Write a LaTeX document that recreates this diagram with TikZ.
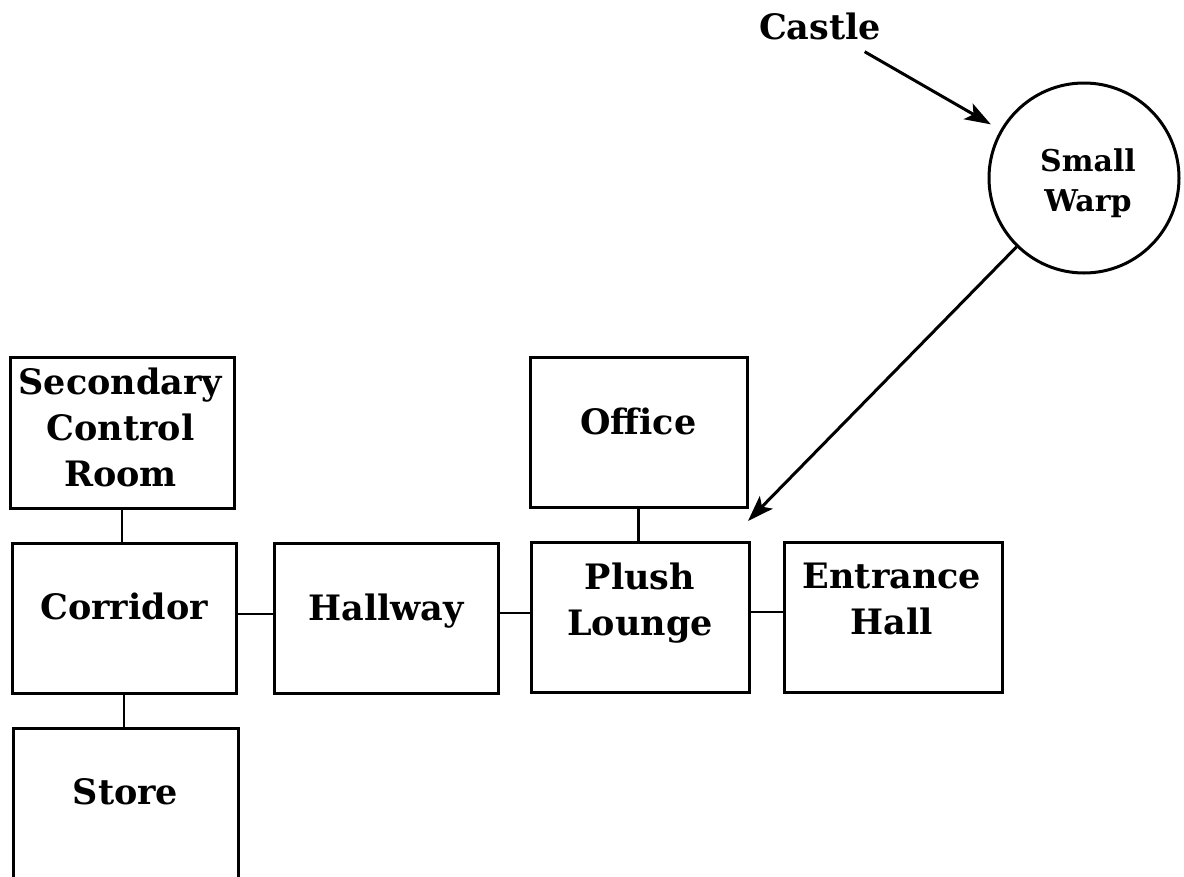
\documentclass[tikz,border=0pt]{standalone}
\usepackage{fontspec}
\setmainfont{DejaVu Serif}
\usetikzlibrary{arrows.meta,calc}
\begin{document}
\begin{tikzpicture}[x=1pt,y=-1pt,
  room/.style={draw, line width=3pt, inner sep=0pt},
  lbl/.style={font=\fontsize{35}{46}\selectfont\bfseries, align=center, inner sep=0pt},
  smalllbl/.style={font=\fontsize{30}{40}\selectfont\bfseries, align=center, inner sep=0pt},
  conn/.style={line width=2.8pt},
  arr/.style={line width=3pt, -{Stealth[length=26pt,width=18pt,inset=6pt]}}
]
\useasboundingbox (0,0) rectangle (1184,876);
\clip (0,0) rectangle (1184,876);

% rooms
\node[room, minimum width=224pt, minimum height=151pt] (scr) at (122,432.5) {};
\node[room, minimum width=224pt, minimum height=150pt] (corr) at (124,618) {};
\node[room, minimum width=225pt, minimum height=170pt] (store) at (125.5,813) {};
\node[room, minimum width=224pt, minimum height=150pt] (hall) at (386,618) {};
\node[room, minimum width=217pt, minimum height=150pt] (office) at (638.5,432) {};
\node[room, minimum width=218pt, minimum height=150pt] (plush) at (640,617) {};
\node[room, minimum width=218pt, minimum height=150pt] (ent) at (893,617) {};
\node[draw, circle, line width=3pt, minimum size=190pt, inner sep=0pt] (warp) at (1084,178) {};

% labels
\node[lbl] (scrl) at (120.5,427) {Secondary\\Control\\Room};
\node[lbl] (corrl) at (124,606.5) {Corridor};
\node[lbl] (storel) at (125.5,791.5) {Store};
\node[lbl] (halll) at (386,611) {Hallway};
\node[lbl] (officel) at (638.5,421) {Office};
\node[lbl] (plushl) at (640,603) {Plush\\Lounge};
\node[lbl] (entl) at (892,599) {Entrance\\Hall};
\node[smalllbl] (warpl) at (1088,183) {Small\\Warp};
\node[lbl] (castle) at (820,26) {Castle};

% connectors
\draw[conn] (scr.south) -- (scr.south |- corr.north);
\draw[conn] (corr.south) -- (corr.south |- store.north);
\draw[conn] ([yshift=4pt]corr.east) -- ([yshift=4pt]corr.east -| hall.west);
\draw[conn] ([yshift=5pt]hall.east) -- ([yshift=5pt]hall.east -| plush.west);
\draw[conn] (office.south) -- (office.south |- plush.north);
\draw[conn] ([yshift=5pt]plush.east) -- ([yshift=5pt]plush.east -| ent.west);

% arrows
\coordinate (tip) at (748,521);
\draw[arr, shorten <=24pt, shorten >=11pt] (castle) -- (warp);
\draw[arr] (warp) -- (tip);
\end{tikzpicture}
\end{document}
